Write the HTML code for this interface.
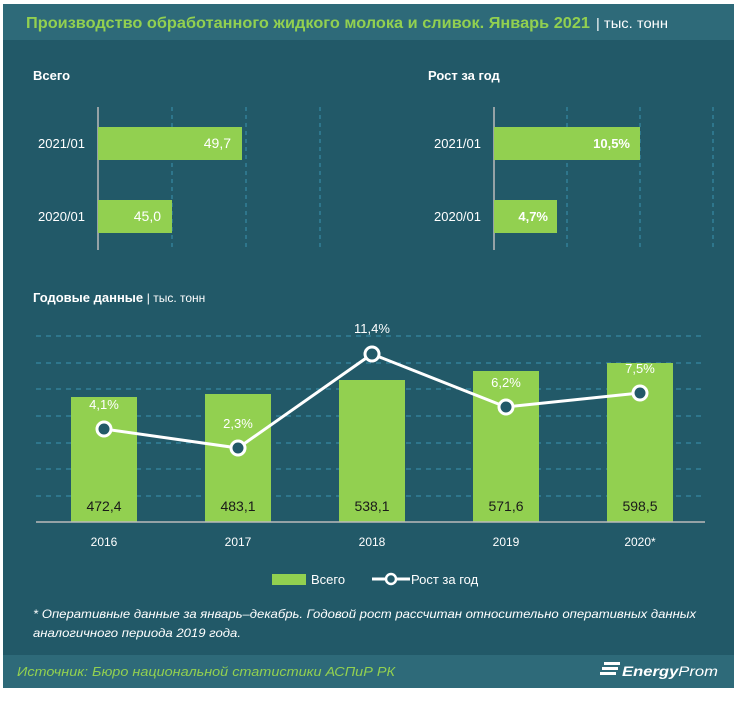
<!DOCTYPE html>
<html><head><meta charset="utf-8"><style>
body{margin:0;width:740px;height:697px;background:#fff;overflow:hidden;font-family:"Liberation Sans","DejaVu Sans",sans-serif}
</style></head><body>
<svg width="740" height="697" viewBox="0 0 740 697" xmlns="http://www.w3.org/2000/svg" font-family="Liberation Sans, DejaVu Sans, sans-serif">
<rect x="3" y="4" width="731" height="684" fill="#225968"/>
<rect x="3" y="4" width="731" height="36" fill="#2e6a79"/>
<rect x="3" y="655" width="731" height="33" fill="#2e6a79"/>
<text x="26" y="28" font-size="16" font-weight="bold" fill="#92d050" textLength="564" lengthAdjust="spacingAndGlyphs">Производство обработанного жидкого молока и сливок. Январь 2021</text>
<text x="596" y="28" font-size="14" fill="#fff" textLength="72" lengthAdjust="spacingAndGlyphs">| тыс. тонн</text>
<text x="33" y="80" font-size="13" font-weight="bold" fill="#fff">Всего</text>
<text x="428" y="80" font-size="13" font-weight="bold" fill="#fff">Рост за год</text>
<g stroke="#3a93b0" stroke-dasharray="4,4" stroke-width="1">
<line x1="172" y1="107" x2="172" y2="250"/><line x1="246" y1="107" x2="246" y2="250"/><line x1="320" y1="107" x2="320" y2="250"/>
<line x1="567" y1="107" x2="567" y2="250"/><line x1="640" y1="107" x2="640" y2="250"/><line x1="713" y1="107" x2="713" y2="250"/>
</g>
<line x1="98" y1="107" x2="98" y2="250" stroke="#bbb" stroke-width="1.5"/>
<line x1="494" y1="107" x2="494" y2="250" stroke="#bbb" stroke-width="1.5"/>
<g fill="#92d050">
<rect x="98" y="127" width="144" height="33"/><rect x="98" y="200" width="74" height="33"/>
<rect x="494" y="127" width="146" height="33"/><rect x="494" y="200" width="63" height="33"/>
</g>
<g font-size="13" fill="#fff">
<text x="85" y="148" text-anchor="end">2021/01</text><text x="85" y="221" text-anchor="end">2020/01</text>
<text x="481" y="148" text-anchor="end">2021/01</text><text x="481" y="221" text-anchor="end">2020/01</text>
<text x="231" y="148" text-anchor="end" font-size="14">49,7</text><text x="161" y="221" text-anchor="end" font-size="14">45,0</text>
<text x="630" y="148" text-anchor="end" font-weight="bold">10,5%</text><text x="548" y="221" text-anchor="end" font-weight="bold">4,7%</text>
</g>
<text x="33" y="302" font-size="13" font-weight="bold" fill="#fff">Годовые данные <tspan font-weight="normal" font-size="12">| тыс. тонн</tspan></text>
<g stroke="#3a93b0" stroke-dasharray="5,5" stroke-width="1">
<line x1="36" y1="336" x2="705" y2="336"/><line x1="36" y1="363" x2="705" y2="363"/><line x1="36" y1="389" x2="705" y2="389"/>
<line x1="36" y1="416" x2="705" y2="416"/><line x1="36" y1="443" x2="705" y2="443"/><line x1="36" y1="469" x2="705" y2="469"/><line x1="36" y1="496" x2="705" y2="496"/>
</g>
<g fill="#92d050">
<rect x="71" y="397" width="66" height="125"/><rect x="205" y="394" width="66" height="128"/>
<rect x="339" y="380" width="66" height="142"/><rect x="473" y="371" width="66" height="151"/><rect x="607" y="363" width="66" height="159"/>
</g>
<line x1="36" y1="522" x2="705" y2="522" stroke="#bbb" stroke-width="1.5"/>
<g font-size="14" fill="#1a1a1a" text-anchor="middle">
<text x="104" y="511">472,4</text><text x="238" y="511">483,1</text><text x="372" y="511">538,1</text><text x="506" y="511">571,6</text><text x="640" y="511">598,5</text>
</g>
<polyline points="104,429 238,448 372,354 506,407 640,393" fill="none" stroke="#fff" stroke-width="3"/>
<g fill="#225968" stroke="#fff" stroke-width="3">
<circle cx="104" cy="429" r="7"/><circle cx="238" cy="448" r="7"/><circle cx="372" cy="354" r="7"/><circle cx="506" cy="407" r="7"/><circle cx="640" cy="393" r="7"/>
</g>
<g font-size="13" fill="#fff" text-anchor="middle">
<text x="104" y="409">4,1%</text><text x="238" y="428">2,3%</text><text x="372" y="333">11,4%</text><text x="506" y="387">6,2%</text><text x="640" y="373">7,5%</text>
</g>
<g font-size="12" fill="#fff" text-anchor="middle">
<text x="104" y="546">2016</text><text x="238" y="546">2017</text><text x="372" y="546">2018</text><text x="506" y="546">2019</text><text x="640" y="546">2020*</text>
</g>
<rect x="272" y="574" width="34" height="11" fill="#92d050"/>
<text x="311" y="584" font-size="13" fill="#fff">Всего</text>
<line x1="372" y1="579" x2="410" y2="579" stroke="#fff" stroke-width="3"/>
<circle cx="391" cy="579" r="5" fill="#225968" stroke="#fff" stroke-width="2.5"/>
<text x="411" y="584" font-size="13" fill="#fff">Рост за год</text>
<text x="33" y="618" font-size="12" font-style="italic" fill="#fff" textLength="663" lengthAdjust="spacingAndGlyphs">* Оперативные данные за январь–декабрь. Годовой рост рассчитан относительно оперативных данных</text>
<text x="33" y="637" font-size="12" font-style="italic" fill="#fff" textLength="208" lengthAdjust="spacingAndGlyphs">аналогичного периода 2019 года.</text>
<text x="17" y="676" font-size="13" font-style="italic" fill="#92d050" textLength="378" lengthAdjust="spacingAndGlyphs">Источник: Бюро национальной  статистики АСПиР РК</text>
<g fill="#fff"><rect x="604" y="662" width="16" height="3"/><rect x="602" y="667" width="16" height="3"/><rect x="600" y="672" width="16" height="3"/></g>
<text x="622" y="676" font-size="14" font-style="italic" font-weight="bold" fill="#fff" textLength="96" lengthAdjust="spacingAndGlyphs">Energy<tspan font-weight="normal">Prom</tspan></text>
</svg>
</body></html>
